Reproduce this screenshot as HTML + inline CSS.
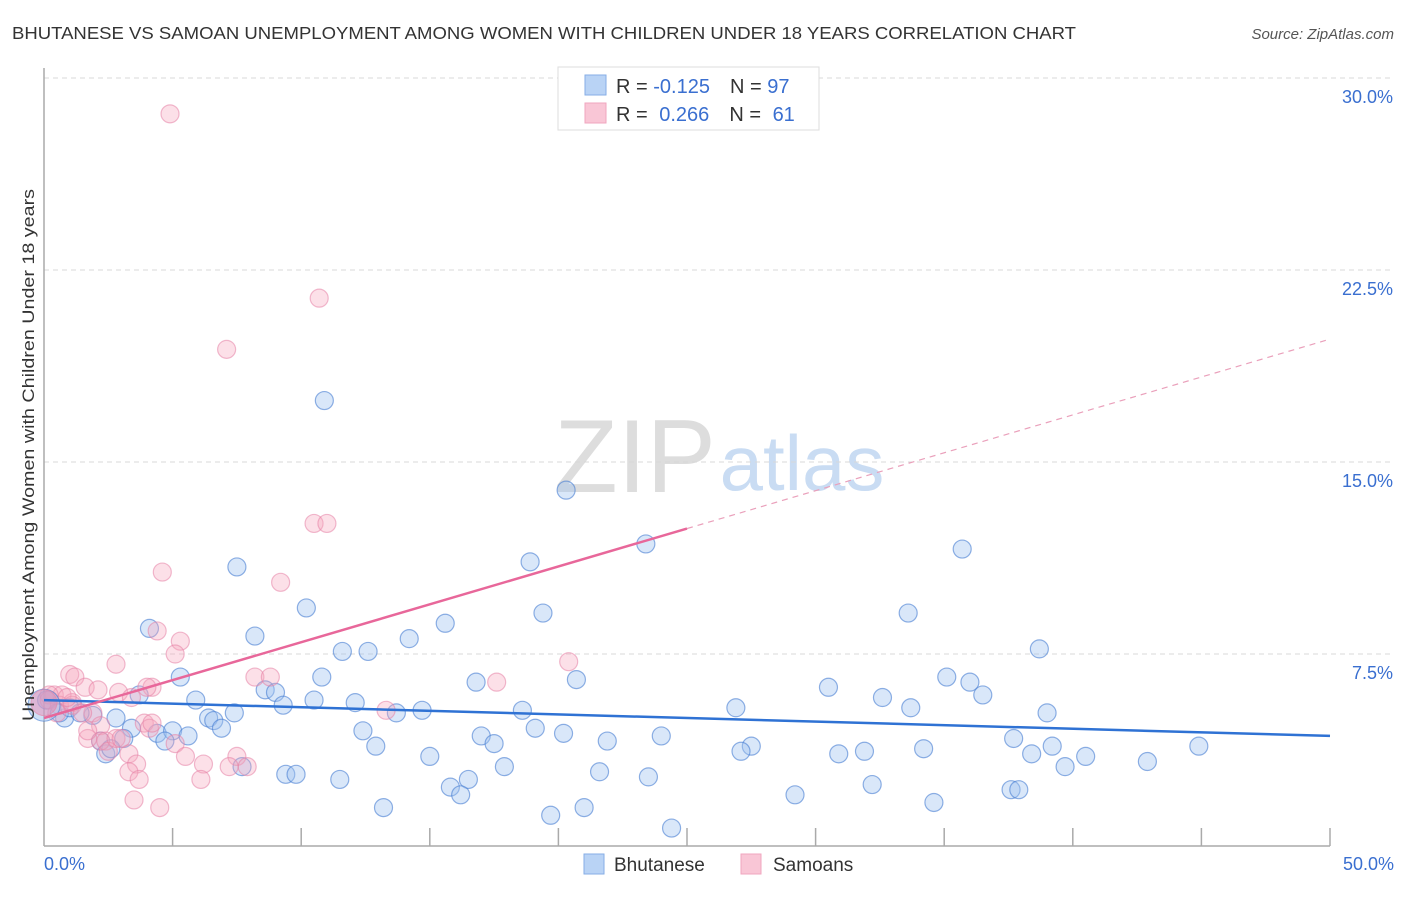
<!DOCTYPE html>
<html><head><meta charset="utf-8"><style>
body{margin:0;background:#fff;font-family:"Liberation Sans",sans-serif;}
svg text{font-family:"Liberation Sans",sans-serif;}
</style></head><body>
<svg id="chart" width="1406" height="892" xmlns="http://www.w3.org/2000/svg">
<text x="12" y="39" font-size="17.5" fill="#333" textLength="1064" lengthAdjust="spacingAndGlyphs">BHUTANESE VS SAMOAN UNEMPLOYMENT AMONG WOMEN WITH CHILDREN UNDER 18 YEARS CORRELATION CHART</text>
<text x="1394" y="39" font-size="15" fill="#555" text-anchor="end" font-style="italic">Source: ZipAtlas.com</text>
<g>
<text x="635" y="492" font-size="104" fill="#ddd" font-family="Liberation Serif, serif" text-anchor="middle">ZIP</text>
<text x="802" y="490" font-size="78" fill="#c9dcf3" text-anchor="middle">atlas</text>
</g>
<g id="grid"></g>
<g id="axes"></g>
<g id="points"></g>
<g id="trends"></g>
<text transform="translate(34,455) rotate(-90)" font-size="17" fill="#333" text-anchor="middle" textLength="532" lengthAdjust="spacingAndGlyphs">Unemployment Among Women with Children Under 18 years</text>
<g>
<rect x="558" y="67" width="261" height="63" fill="#fff" stroke="#ddd"/>
<rect x="585" y="75" width="21" height="20" fill="#b9d3f5" stroke="#86aee6"/>
<rect x="585" y="103" width="21" height="20" fill="#f9c6d6" stroke="#f0a6bf"/>
<text x="616" y="93" font-size="20" fill="#333">R = <tspan fill="#3a6fd0">-0.125</tspan><tspan dx="20">N = </tspan><tspan fill="#3a6fd0">97</tspan></text>
<text x="616" y="121" font-size="20" fill="#333">R = <tspan dx="6" fill="#3a6fd0">0.266</tspan><tspan dx="20">N = </tspan><tspan dx="6" fill="#3a6fd0">61</tspan></text>
</g>
<g>
<rect x="584" y="854" width="20" height="20" fill="#b9d3f5" stroke="#86aee6"/>
<text x="614" y="871" font-size="19" fill="#333">Bhutanese</text>
<rect x="741" y="854" width="20" height="20" fill="#f9c6d6" stroke="#f0a6bf"/>
<text x="773" y="871" font-size="19" fill="#333">Samoans</text>
</g>
</svg>
<script>
const yTicks=[7.5,15.0,22.5,30.0];
const yTickLabels=["7.5%","15.0%","22.5%","30.0%"];
const xTickValues=[0,5,10,15,20,25,30,35,40,45,50];
const blueX=[10.9,20.3,23.4,35.7,18.9,7.5,10.2,19.4,33.6,4.1,15.6,8.2,14.2,11.6,12.6,38.7,5.3,10.8,16.8,20.7,30.5,35.1,36.0,3.7,8.6,9.0,5.9,10.5,12.1,9.3,32.6,36.5,26.9,33.7,39.0,7.4,6.4,6.6,13.7,14.7,18.6,2.8,1.9,0.8,0.6,0.1,1.0,3.4,4.4,5.0,5.6,6.9,19.1,20.2,12.4,17.0,24.0,4.7,3.1,2.2,12.9,17.5,21.9,27.5,27.1,34.2,30.9,31.9,37.7,39.2,38.4,40.5,44.9,42.9,2.4,15.0,7.7,17.9,39.7,21.6,23.5,9.4,9.8,11.5,16.5,15.8,16.2,32.2,29.2,37.6,37.9,34.6,13.2,21.0,19.7,24.4,2.6,1.4];
const blueY=[17.4,13.9,11.8,11.6,11.1,10.9,9.3,9.1,9.1,8.5,8.7,8.2,8.1,7.6,7.6,7.7,6.6,6.6,6.4,6.5,6.2,6.6,6.4,5.9,6.1,6.0,5.7,5.7,5.6,5.5,5.8,5.9,5.4,5.4,5.2,5.2,5.0,4.9,5.2,5.3,5.3,5.0,5.1,5.0,5.2,5.7,5.4,4.6,4.4,4.5,4.3,4.6,4.6,4.4,4.5,4.3,4.3,4.1,4.2,4.1,3.9,4.0,4.1,3.9,3.7,3.8,3.6,3.7,4.2,3.9,3.6,3.5,3.9,3.3,3.6,3.5,3.1,3.1,3.1,2.9,2.7,2.8,2.8,2.6,2.6,2.3,2.0,2.4,2.0,2.2,2.2,1.7,1.5,1.5,1.2,0.7,3.8,5.2];
const pinkX=[4.9,10.7,7.1,10.5,11.0,4.6,9.2,4.4,5.3,5.1,2.8,20.4,17.6,1.0,1.2,1.6,4.2,8.2,8.8,2.1,2.9,4.0,3.4,0.4,0.7,0.2,0.2,0.6,1.1,1.9,2.2,13.3,3.9,4.1,4.2,5.1,7.5,7.9,5.5,6.2,7.2,3.3,3.6,2.2,1.7,2.4,2.5,2.8,3.3,3.7,6.1,3.5,4.5,1.1,1.5,0.9,0.5,1.7,3.0];
const pinkY=[28.6,21.4,19.4,12.6,12.6,10.7,10.3,8.4,8.0,7.5,7.1,7.2,6.4,6.7,6.6,6.2,6.2,6.6,6.6,6.1,6.0,6.2,5.8,5.9,5.9,5.9,5.7,5.5,5.6,5.2,4.7,5.3,4.8,4.6,4.8,4.0,3.5,3.1,3.5,3.2,3.1,3.6,3.2,4.1,4.2,4.1,3.7,4.2,2.9,2.6,2.6,1.8,1.5,5.5,5.2,5.8,5.2,4.5,4.2];
const bigX=[0,0];
const bigY=[5.5,5.6];
const blueTrend=[5.7,4.3];
const pinkTrend=[5.0,19.8];
const pinkSolidEnd=25;

const NS="http://www.w3.org/2000/svg";
const X0=44,X1=1330,Y0=846,Y30=78;
const sx=v=>X0+(X1-X0)*v/50;
const sy=v=>Y0-(Y0-Y30)*v/30;
function mk(tag,attrs,parent){const e=document.createElementNS(NS,tag);for(const k in attrs)e.setAttribute(k,attrs[k]);parent.appendChild(e);return e;}
const grid=document.getElementById('grid'),axes=document.getElementById('axes'),pts=document.getElementById('points'),tr=document.getElementById('trends');
yTicks.forEach((t,i)=>{
 const l=mk('line',{x1:X0,x2:1394,y1:sy(t),y2:sy(t),stroke:'#d8d8d8','stroke-dasharray':'5,4'},grid);
 
 
 const tx=mk('text',{x:1393,y:sy(t)+25,'font-size':18,fill:'#3a6fd0','text-anchor':'end'},grid);
 tx.textContent=yTickLabels[i];
 
 
});
const ya=mk('line',{x1:X0,x2:X0,y1:68,y2:Y0,stroke:'#aaa','stroke-width':1.5},axes);


const xa=mk('line',{x1:X0,x2:X1,y1:Y0,y2:Y0,stroke:'#aaa','stroke-width':1.5},axes);


xTickValues.forEach(v=>{if(v===0)return;
 const t=mk('line',{x1:sx(v),x2:sx(v),y1:828,y2:Y0,stroke:'#aaa','stroke-width':1.5},axes);
 
 
});
const xl0=mk('text',{x:44,y:870,'font-size':18,fill:'#3a6fd0'},axes);xl0.textContent='0.0%';


const xl1=mk('text',{x:1394,y:870,'font-size':18,fill:'#3a6fd0','text-anchor':'end'},axes);xl1.textContent='50.0%';


function dots(xs,ys,fill,stroke,name,r){xs.forEach((x,i)=>{
 const c=mk('circle',{cx:sx(x),cy:sy(ys[i]),r:r,fill:fill,stroke:stroke,'stroke-width':1.2},pts);
 
 
});}
dots(blueX,blueY,'rgba(160,195,240,0.4)','rgba(70,125,210,0.6)','bhutanese-point',9);
dots(pinkX,pinkY,'rgba(245,165,190,0.35)','rgba(230,130,165,0.55)','samoan-point',9);
const bc=mk('circle',{cx:sx(bigX[0]),cy:sy(bigY[0]),r:16,fill:'rgba(160,195,240,0.5)',stroke:'rgba(70,125,210,0.6)'},pts);


const pc=mk('circle',{cx:sx(bigX[1]),cy:sy(bigY[1]),r:13,fill:'rgba(235,130,170,0.45)',stroke:'rgba(230,130,165,0.6)'},pts);


const bl=mk('line',{x1:sx(0),y1:sy(blueTrend[0]),x2:sx(50),y2:sy(blueTrend[1]),stroke:'#2f72d4','stroke-width':2.5},tr);


const pyAt=x=>pinkTrend[0]+(pinkTrend[1]-pinkTrend[0])*x/50;
const pl=mk('line',{x1:sx(0),y1:sy(pyAt(0)),x2:sx(pinkSolidEnd),y2:sy(pyAt(pinkSolidEnd)),stroke:'#e8679a','stroke-width':2.5},tr);


const pd=mk('line',{x1:sx(pinkSolidEnd),y1:sy(pyAt(pinkSolidEnd)),x2:sx(49.9),y2:sy(pyAt(49.9)),stroke:'#eaa0bb','stroke-width':1.2,'stroke-dasharray':'6,5'},tr);


</script>
</body></html>
